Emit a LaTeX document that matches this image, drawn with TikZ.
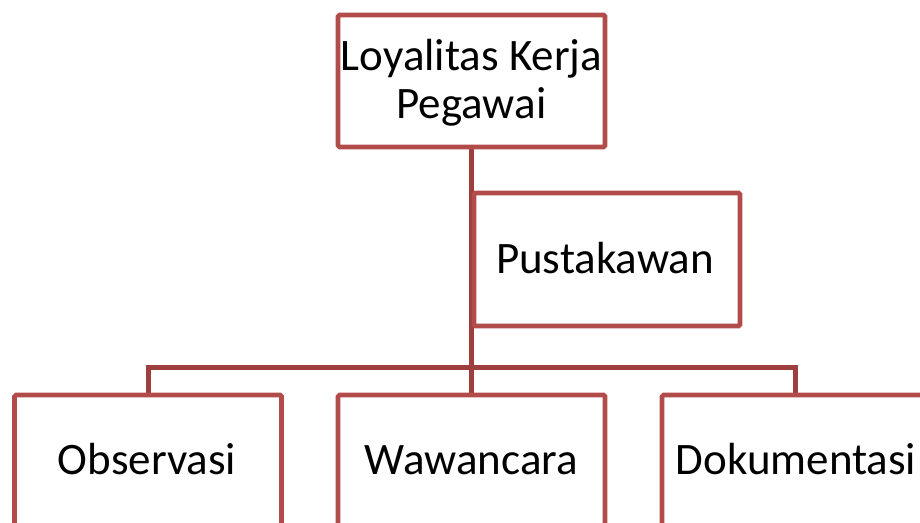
\documentclass[tikz,border=0pt]{standalone}
\usepackage{fontspec}
\usetikzlibrary{backgrounds}
\setmainfont{Carlito}
\definecolor{boxred}{HTML}{B24C4A}
\definecolor{linkred}{HTML}{9E3F3D}
\begin{document}
\begin{tikzpicture}[x=1pt,y=-1pt,
  box/.style={draw=boxred,line width=4.6pt,rounded corners=1.5pt,fill=white,
    minimum width=267pt,minimum height=132pt,inner sep=0pt,outer sep=0pt},
  lbl/.style={anchor=base,inner sep=0pt,font=\fontsize{45}{48}\selectfont},
  link/.style={draw=linkred,line width=5pt}]
\useasboundingbox (0,0) rectangle (920,522);
% boxes
\node[box] (top) at (471.5,81) {};
\node[box,minimum width=266pt,minimum height=133pt] (pus) at (607,259.5) {};
\node[box] (obs) at (148,461) {};
\node[box] (waw) at (471.5,461) {};
\node[box] (dok) at (795.5,461) {};
\coordinate (bar) at (471.5,367);
% connectors
\begin{scope}[on background layer]
\draw[link] (top.south) -- (waw.north);
\draw[link] (obs.north) |- (bar) -| (dok.north);
\end{scope}
% labels
\node[lbl] (top1) at (471.5,70) {Loyalitas Kerja};
\node[lbl] (top2) at (471.5,118) {Pegawai};
\node[lbl] (pust) at (605,273) {Pustakawan};
\node[lbl] (obst) at (147,474) {Observasi};
\node[lbl] (wawt) at (471.5,474) {Wawancara};
\node[lbl] (dokt) at (796,474) {Dokumentasi};
\end{tikzpicture}
\end{document}
